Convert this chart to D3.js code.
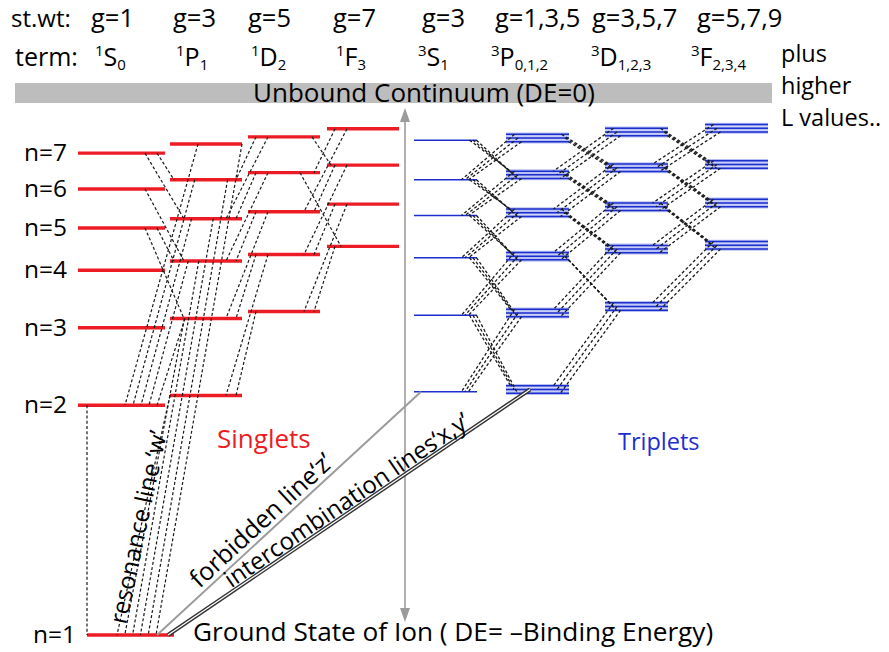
<!DOCTYPE html>
<html>
<head>
<meta charset="utf-8">
<script src="https://cdn.jsdelivr.net/npm/d3@7"></script>
<style>
  body { margin: 0; background: #fff; }
  svg { display: block; }
  text { font-family: "Open Sans", "Noto Sans", sans-serif; }
</style>
</head>
<body>
<svg id="chart" width="889" height="652"></svg>
<script>
// ---------------- data ----------------
// Term columns of the He-like ion, singlets then triplets
const terms = ["1S", "1P", "1D", "1F", "3S", "3P", "3D", "3F"];
const statWeights = ["g=1", "g=3", "g=5", "g=7", "g=3", "g=1,3,5", "g=3,5,7", "g=5,7,9"];
const termMult = ["1", "1", "1", "1", "3", "3", "3", "3"];
const termLetter = ["S", "P", "D", "F", "S", "P", "D", "F"];
const termJ = ["0", "1", "2", "3", "1", "0,1,2", "1,2,3", "2,3,4"];
const lowestN = [1, 2, 3, 4, 2, 2, 3, 4];

// Level energies above the ground state (schematic, % of the ionisation energy), lowest n first
const energy1S = [0, 42.4, 56.7, 67.3, 75.1, 82.3, 88.9];
const energy1P = [44.2, 58.4, 69.0, 76.8, 84.0, 90.6];
const energy1D = [59.7, 70.2, 78.1, 85.3, 91.9];
const energy1F = [71.7, 79.5, 86.7, 93.4];
const energy3S = [44.9, 59.0, 69.6, 77.4, 84.0, 91.3];
const energy3P = [45.3, 59.4, 69.9, 77.9, 84.9, 91.7];
const energy3D = [60.6, 71.2, 79.0, 86.2, 92.8];
const energy3F = [71.9, 79.7, 86.8, 93.5];

const nLabels = ["n=1", "n=2", "n=3", "n=4", "n=5", "n=6", "n=7"];
const extraTermLines = ["plus", "higher", "L values.."];

// Radiative transitions: [upper term, upper n, lower term, lower n]
const resonanceLines = [
  ["1P", 2, "1S", 1], ["1P", 3, "1S", 1], ["1P", 4, "1S", 1],
  ["1P", 5, "1S", 1], ["1P", 6, "1S", 1], ["1P", 7, "1S", 1]
];
const toFirstExcited = [
  ["1P", 3, "1S", 2], ["1P", 4, "1S", 2], ["1P", 5, "1S", 2],
  ["1P", 6, "1S", 2], ["1P", 7, "1S", 2]
];
const singletCascades = [
  ["1S", 7, "1P", 6], ["1S", 7, "1P", 5], ["1S", 6, "1P", 4], ["1S", 5, "1P", 4], ["1S", 5, "1P", 3],
  ["1D", 7, "1P", 6], ["1D", 7, "1P", 5], ["1D", 6, "1P", 5], ["1D", 6, "1P", 4], ["1D", 5, "1P", 4],
  ["1D", 5, "1P", 3], ["1D", 4, "1P", 3], ["1D", 4, "1P", 2], ["1D", 3, "1P", 2],
  ["1F", 7, "1D", 6], ["1F", 7, "1D", 5], ["1F", 6, "1D", 5], ["1F", 6, "1D", 4], ["1F", 5, "1D", 4],
  ["1F", 5, "1D", 3], ["1F", 4, "1D", 3],
  ["1D", 7, "1F", 6], ["1D", 6, "1F", 4]
];
const tripletCascades = [
  ["3S", 7, "3P", 6], ["3S", 6, "3P", 5], ["3S", 5, "3P", 4], ["3S", 4, "3P", 3], ["3S", 3, "3P", 2],
  ["3P", 7, "3S", 6], ["3P", 6, "3S", 5], ["3P", 5, "3S", 4], ["3P", 4, "3S", 3], ["3P", 3, "3S", 2],
  ["3P", 7, "3D", 6], ["3P", 6, "3D", 5], ["3P", 5, "3D", 4], ["3P", 4, "3D", 3],
  ["3D", 7, "3P", 6], ["3D", 6, "3P", 5], ["3D", 5, "3P", 4], ["3D", 4, "3P", 3], ["3D", 3, "3P", 2],
  ["3D", 7, "3F", 6], ["3D", 6, "3F", 5], ["3D", 5, "3F", 4],
  ["3F", 7, "3D", 6], ["3F", 6, "3D", 5], ["3F", 5, "3D", 4], ["3F", 4, "3D", 3]
];
const twoPhotonLine = ["1S", 2, "1S", 1];
const forbiddenLine = ["3S", 2, "1S", 1];
const intercombinationLine = ["3P", 2, "1S", 1];

// ---------------- layout ----------------
const RED = "#ed1c24", BLUE = "#1d2ed0", LIGHTBLUE = "#b7c0f3", GREY = "#9b9b9b";
const svg = d3.select("#chart");

const energyTable = { "1S": energy1S, "1P": energy1P, "1D": energy1D, "1F": energy1F,
                      "3S": energy3S, "3P": energy3P, "3D": energy3D, "3F": energy3F };
const levels = [];
terms.forEach((t, i) => energyTable[t].forEach((e, k) => levels.push({ term: t, n: lowestN[i] + k, E: e })));
const levelOf = (t, n) => levels.find(l => l.term === t && l.n === n);

const y = d3.scaleLinear().domain([0, 100]).range([635, 93]);
const colLeft = d3.scaleOrdinal().domain(terms).range([78, 170, 248, 327, 414, 506, 605, 705]);
const colWidth = d3.scaleOrdinal().domain(terms).range([87, 72, 72, 72, 63, 63, 63, 63]);
const colIndex = d3.scaleOrdinal().domain(terms).range(d3.range(terms.length));
const isMultiplet = t => t[0] === "3" && t !== "3S";
const FS = 3.7; // spacing of the fine-structure components

function span(l) {
  let x0 = colLeft(l.term);
  if (l.term === "1S" && l.n === 1) x0 += 9;
  return [x0, x0 + colWidth(l.term)];
}

// continuum band
svg.append("rect").attr("x", 15).attr("y", y(100) - 10).attr("width", 757).attr("height", 20)
  .attr("fill", "#bdbdbd");
svg.append("text").attr("x", 253).attr("y", y(100) + 9).attr("font-size", 26)
  .text("Unbound Continuum (DE=0)");

// header rows
const weightX = [91, 173, 248, 333, 422, 495, 592, 697];
const termX = [95, 176, 251, 336, 418, 491, 591, 691];
svg.append("text").attr("x", 11).attr("y", 27).attr("font-size", 24).text("st.wt:");
svg.append("text").attr("x", 15).attr("y", 65.5).attr("font-size", 25).text("term:");
svg.selectAll("text.weight").data(statWeights).join("text").attr("class", "weight")
  .attr("x", (d, i) => weightX[i]).attr("y", 27).attr("font-size", 25.5).text(d => d);
const termText = svg.selectAll("text.term").data(terms).join("text").attr("class", "term")
  .attr("x", (d, i) => termX[i]).attr("y", 65.5);
termText.append("tspan").attr("font-size", 15).attr("dy", -10).text((d, i) => termMult[i]);
termText.append("tspan").attr("font-size", 25).attr("dy", 10).text((d, i) => termLetter[i]);
termText.append("tspan").attr("font-size", 15).attr("dy", 4).text((d, i) => termJ[i]);
svg.selectAll("text.extra").data(extraTermLines).join("text").attr("class", "extra")
  .attr("x", 781).attr("y", (d, i) => 62 + 32 * i).attr("font-size", 23.5).text(d => d);

// energy axis arrow (continuum <-> ground)
const ax = 405;
svg.append("line").attr("x1", ax).attr("x2", ax).attr("y1", 118).attr("y2", 612)
  .attr("stroke", GREY).attr("stroke-width", 1.6);
svg.append("path").attr("d", `M${ax},108 L${ax - 5},122 L${ax + 5},122 Z`).attr("fill", GREY);
svg.append("path").attr("d", `M${ax},622 L${ax - 5},608 L${ax + 5},608 Z`).attr("fill", GREY);

// energy levels
const singletLevels = levels.filter(l => l.term[0] === "1");
svg.selectAll("line.singlet").data(singletLevels).join("line").attr("class", "singlet")
  .attr("x1", d => span(d)[0]).attr("x2", d => span(d)[1])
  .attr("y1", d => y(d.E)).attr("y2", d => y(d.E))
  .attr("stroke", RED).attr("stroke-width", 3.4);

const tripletParts = [];
levels.filter(l => l.term[0] === "3").forEach(l => {
  const offs = isMultiplet(l.term) ? [-FS, 0, FS] : [0];
  offs.forEach(o => tripletParts.push({ l, o }));
});
svg.selectAll("line.tripHalo").data(tripletParts.filter(p => isMultiplet(p.l.term))).join("line")
  .attr("class", "tripHalo")
  .attr("x1", d => span(d.l)[0]).attr("x2", d => span(d.l)[1])
  .attr("y1", d => y(d.l.E) + d.o).attr("y2", d => y(d.l.E) + d.o)
  .attr("stroke", LIGHTBLUE).attr("stroke-width", 3.6);
svg.selectAll("line.triplet").data(tripletParts).join("line").attr("class", "triplet")
  .attr("x1", d => span(d.l)[0]).attr("x2", d => span(d.l)[1])
  .attr("y1", d => y(d.l.E) + d.o).attr("y2", d => y(d.l.E) + d.o)
  .attr("stroke", BLUE).attr("stroke-width", 1.5);

// n labels on the 1S column
svg.selectAll("text.nlab").data(levels.filter(l => l.term === "1S")).join("text").attr("class", "nlab")
  .attr("x", d => span(d)[0] - 54).attr("y", d => y(d.E) + 8).attr("font-size", 24.5)
  .text(d => nLabels[d.n - 1]);

// transitions
function ends(tr) {
  const U = levelOf(tr[0], tr[1]), L = levelOf(tr[2], tr[3]);
  const [u0, u1] = span(U), [l0, l1] = span(L);
  const dn = tr[1] - tr[3];
  const left = colIndex(tr[2]) < colIndex(tr[0]);
  let xu, xl;
  if (tr[0][0] === "3") {
    xu = left ? u0 + 12 : u1 - 4;
    xl = left ? l1 - 12 : l0 + 8;
  } else {
    xu = left ? u0 + 8 + 12 * (dn - 1) : u1 - 8 - 12 * (dn - 1);
    xl = left ? l1 - 6 - 10 * (dn - 1) : l0 + 4 + 10 * (dn - 1);
  }
  return { U, L, xu, xl };
}
const dash = "3,2.2";
const lineGen = d3.line();

const singletSegs = [];
resonanceLines.forEach(tr => {
  const U = levelOf(tr[0], tr[1]), L = levelOf(tr[2], tr[3]);
  const [u0, u1] = span(U), [l0] = span(L);
  singletSegs.push([[u0 + (u1 - u0) * (tr[1] - 2) / 5, y(U.E)], [l0 + 30 + (tr[1] - 2) * 7.8, y(L.E)]]);
});
toFirstExcited.forEach(tr => {
  const U = levelOf(tr[0], tr[1]), L = levelOf(tr[2], tr[3]);
  const [u0] = span(U), [, l1] = span(L);
  singletSegs.push([[u0 + 15 + (tr[1] - 3) * 3.25, y(U.E)], [l1 - 8 - (tr[1] - 3) * 8, y(L.E)]]);
});
singletCascades.forEach(tr => {
  const e = ends(tr);
  singletSegs.push([[e.xu, y(e.U.E)], [e.xl, y(e.L.E)]]);
});
{
  const U = levelOf(...twoPhotonLine.slice(0, 2)), L = levelOf(...twoPhotonLine.slice(2));
  const x = span(U)[0] + 9;
  singletSegs.push([[x, y(U.E)], [x, y(L.E)]]);
}
svg.selectAll("path.sing").data(singletSegs).join("path").attr("class", "sing")
  .attr("d", d => lineGen(d)).attr("fill", "none")
  .attr("stroke", "#1a1a1a").attr("stroke-width", 1.2).attr("stroke-dasharray", dash);

const tripletSegs = [];
tripletCascades.forEach(tr => {
  const e = ends(tr);
  [-1, 0, 1].forEach(k => {
    const du = isMultiplet(tr[0]) ? k * FS : 0, dl = isMultiplet(tr[2]) ? k * FS : 0;
    tripletSegs.push([[e.xu + k * 3.5, y(e.U.E) + du], [e.xl + k * 3.5, y(e.L.E) + dl]]);
  });
});
svg.selectAll("path.trip").data(tripletSegs).join("path").attr("class", "trip")
  .attr("d", d => lineGen(d)).attr("fill", "none")
  .attr("stroke", "#1a1a1a").attr("stroke-width", 1.3).attr("stroke-dasharray", dash);

// forbidden and intercombination lines to the ground state
const ground = levelOf("1S", 1);
const g0 = span(ground)[0];
const fU = levelOf(forbiddenLine[0], forbiddenLine[1]);
const fSeg = [[g0 + 70, y(ground.E)], [span(fU)[0] + 7, y(fU.E)]];
svg.append("path").attr("d", lineGen(fSeg)).attr("stroke", GREY).attr("stroke-width", 2);
const iU = levelOf(intercombinationLine[0], intercombinationLine[1]);
const iSeg = [[g0 + 81, y(ground.E)], [span(iU)[0] + 24, y(iU.E)]];
svg.append("path").attr("d", lineGen(iSeg)).attr("stroke", "#333").attr("stroke-width", 4);
svg.append("path").attr("d", lineGen(iSeg)).attr("stroke", "#fff").attr("stroke-width", 1.2);

// rotated labels along the lines
function alongLabel(seg, startX, offset, text, size) {
  const [[x1, y1], [x2, y2]] = seg;
  const ang = Math.atan2(y2 - y1, x2 - x1);
  const t = (startX - x1) / (x2 - x1);
  const px = x1 + t * (x2 - x1) + offset * Math.sin(ang);
  const py = y1 + t * (y2 - y1) - offset * Math.cos(ang);
  svg.append("text").attr("transform", `translate(${px},${py}) rotate(${ang * 180 / Math.PI})`)
    .attr("font-size", size).text(text);
}
alongLabel(fSeg, 203, 5, "forbidden line\u2018z\u2019", 25);
alongLabel(iSeg, 233, 3, "intercombination lines\u2018x,y\u2019", 24);
svg.append("text").attr("transform", "translate(126,625) rotate(-78)").attr("font-size", 24)
  .text("resonance line \u2018w\u2019");

// group labels
svg.append("text").attr("x", 217).attr("y", 448).attr("font-size", 26).attr("fill", RED).text("Singlets");
svg.append("text").attr("x", 618).attr("y", 450).attr("font-size", 23.5).attr("fill", BLUE).text("Triplets");
svg.append("text").attr("x", 193).attr("y", 641).attr("font-size", 26.2)
  .text("Ground State of Ion ( DE= \u2013Binding Energy)");
</script>
</body>
</html>
